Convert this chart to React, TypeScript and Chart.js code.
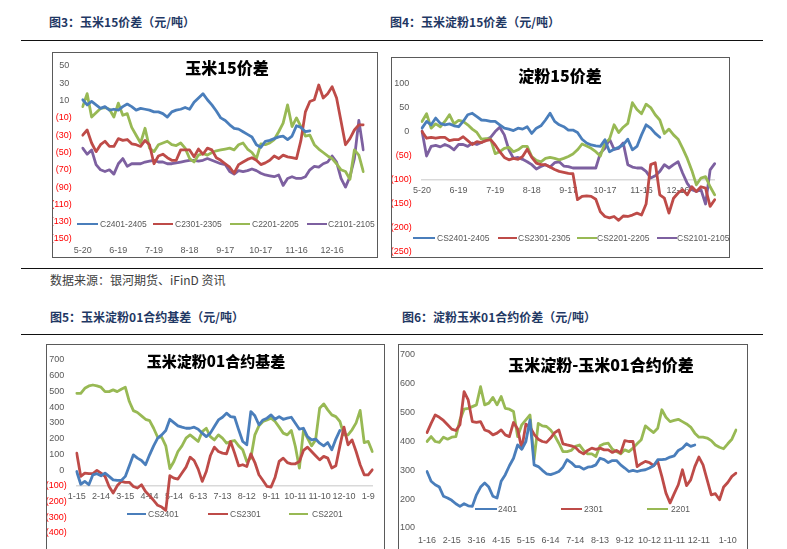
import React, { useEffect, useRef } from 'react';
import { Chart, registerables } from 'chart.js';

Chart.register(...registerables);
Chart.defaults.font.family = '"Liberation Sans", Arial, sans-serif';

const BLUE = '#4A7EBB';
const RED = '#BE4B48';
const GREEN = '#98B954';
const PURPLE = '#7D60A0';
const AXIS_TEXT = '#595959';
const NEG_TEXT = '#FF0000';

// ---------- 图3 玉米15价差 ----------
const c1Ticks = ['5-20', '6-19', '7-19', '8-18', '9-17', '10-17', '11-16', '12-16'];
const c1TickIdx = [0, 8, 16, 24, 32, 40, 48, 56];
const c1Count = 64;
const c1Blue = [11, 5, 9, 5, 1, 3, -1, 0, -1, 3, 6, 3, -1, 1, 0, -1, -3, -3, -5, -9, -3, -1, 0, 2, 0, 8, 13, 18, 11, 5, -2, -10, -13, -18, -22, -23, -26, -29, -32, -41, -44, -37, -36, -34, -32, -31, -35, -31, -19, -21, -26, -25];
const c1Red = [-30, -24, -39, -49, -41, -37, -43, -43, -34, -36, -35, -40, -41, -43, -36, -41, -63, -54, -52, -56, -59, -59, -47, -47, -47, -55, -46, -52, -45, -47, -56, -59, -63, -67, -74, -64, -61, -58, -56, -59, -64, -62, -59, -54, -57, -53, -55, -56, -57, -36, -3, 9, 11, 28, 13, 18, 26, 13, -14, -41, -34, -24, -18, -18];
const c1Green = [3, 18, -9, -4, 1, 2, 0, -9, 7, -7, -5, -21, -30, -39, -22, -45, -49, -41, -39, -37, -41, -42, -39, -45, -57, -61, -53, -51, -53, -50, -48, -47, -46, -45, -47, -41, -39, -46, -50, -57, -40, -41, -39, -35, -26, -16, 5, -20, -10, -20, -31, -30, -41, -46, -50, -54, -57, -63, -70, -72, -81, -47, -53, -72];
const c1Purple = [-45, -52, -47, -64, -70, -72, -70, -75, -63, -57, -66, -63, -63, -63, -61, -60, -59, -61, -61, -63, -63, -62, -61, -60, -59, -59, -60, -59, -57, -59, -61, -63, -64, -72, -75, -71, -72, -71, -69, -71, -74, -76, -77, -78, -76, -88, -80, -78, -80, -80, -78, -70, -66, -67, -63, -61, -54, -61, -80, -90, -78, -57, -13, -47];

// ---------- 图4 淀粉15价差 ----------
const c2Ticks = ['5-20', '6-19', '7-19', '8-18', '9-17', '10-17', '11-16', '12-16'];
const c2TickIdx = [0, 8, 16, 24, 32, 40, 48, 56];
const c2Count = 65;
const c2Blue = [8, 22, 15, 29, 18, 15, 17, 13, 11, 22, 36, 39, 32, 25, 24, 22, 22, 15, 8, 6, 3, 8, 6, 11, -3, 8, 13, 25, 39, 22, 15, 11, 4, 4, -1, -15, -23, -27, -29, -30, -16, -41, -36, -32, -27, -15, -37, -30, -6, 15, 8, -3, -11];
const c2Red = [1, -13, -11, -13, -11, -11, -18, -16, -16, -10, -18, -26, -20, -22, -18, -16, -27, -41, -53, -58, -55, -57, -51, -36, -53, -65, -68, -68, -73, -78, -82, -84, -86, -87, -141, -134, -133, -134, -140, -166, -176, -179, -176, -184, -175, -176, -173, -169, -173, -150, -68, -64, -131, -138, -169, -138, -127, -120, -131, -114, -124, -114, -117, -155, -141];
const c2Green = [22, 38, 8, 17, 11, 22, 36, 17, 24, 22, 15, 6, -1, -15, -14, -15, -45, -41, -34, -32, -41, -37, -30, -30, -51, -59, -62, -55, -53, -55, -58, -55, -51, -46, -37, -25, -29, -34, -41, -50, -23, -15, 15, -1, 10, 18, 61, 47, 38, 58, 51, 36, 25, -3, 6, -6, -15, -34, -55, -80, -110, -96, -93, -114, -131];
const c2Purple = [2, -50, -30, -28, -31, -26, -30, -37, -26, -26, -30, -23, -26, -22, -16, -11, 1, 10, -6, -37, -55, -53, -57, -62, -68, -77, -72, -68, -73, -64, -62, -71, -72, -75, -75, -75, -75, -75, -75, -44, -34, -15, -36, -34, -23, -68, -73, -75, -75, -82, -96, -91, -82, -68, -75, -68, -62, -86, -107, -120, -124, -120, -150, -79, -66];

// ---------- 图5 玉米淀粉01合约基差 ----------
const c3Ticks = ['1-15', '2-14', '3-15', '4-14', '5-14', '6-13', '7-13', '8-12', '9-11', '10-11', '11-10', '12-10', '1-9'];
const c3TickIdx = [0, 6, 12, 18, 24, 30, 36, 42, 48, 54, 60, 66, 72];
const c3Count = 74;
const c3Blue = [-9, -90, -72, -93, -30, -23, -36, -19, -40, -62, -66, -66, -40, 27, 97, 76, 61, 34, 97, 154, 203, 224, 252, 323, 302, 281, 273, 266, 266, 273, 260, 235, 213, 235, 277, 319, 336, 362, 340, 336, 256, 182, 161, 372, 345, 288, 319, 330, 351, 323, 340, 323, 330, 336, 298, 260, 266, 213, 192, 197, 171, 154, 175, 129, 197, 252];
const c3Red = [108, -40, -19, -23, -23, -2, -19, -40, -104, -146, -100, -72, -78, -78, -104, -114, -93, -136, -163, -193, -224, -235, -256, -36, -51, -57, -19, 19, 82, 61, 6, -72, -9, 91, 146, 118, 108, 103, 182, 108, 27, 34, 23, 103, 48, -30, -66, -104, -108, -45, 55, 76, 48, 40, 40, 55, 125, 146, 118, 91, 65, 87, 76, 13, 27, 154, 273, 161, 192, 118, 34, -30, -30, 2];
const c3Green = [488, 488, 520, 535, 541, 535, 527, 499, 499, 510, 499, 514, 527, 436, 378, 366, 345, 323, 315, 266, 209, 209, 154, 10, 55, 118, 154, 203, 224, 203, 182, 245, 266, 213, 192, 224, 203, 171, 182, 188, 154, 129, 55, 76, 224, 281, 309, 319, 330, 309, 273, 235, 224, 252, 150, 12, 252, 203, 154, 192, 393, 421, 383, 351, 340, 309, 224, 224, 256, 300, 380, 175, 182, 118];

// ---------- 图6 淀粉玉米01合约价差 ----------
const c4Ticks = ['1-16', '2-15', '3-16', '4-15', '5-15', '6-14', '7-14', '8-13', '9-12', '10-12', '11-11', '12-11', '1-10'];
const c4TickIdx = [0, 6, 12, 18, 24, 30, 36, 42, 48, 54, 60, 66, 73];
const c4Count = 76;
const c4Blue = [296, 262, 250, 242, 210, 204, 196, 184, 175, 184, 177, 175, 215, 242, 256, 242, 210, 204, 262, 285, 316, 342, 388, 373, 400, 475, 319, 313, 300, 288, 285, 290, 296, 311, 337, 327, 313, 313, 304, 311, 313, 319, 342, 337, 327, 334, 334, 319, 308, 296, 300, 296, 300, 302, 308, 316, 337, 337, 339, 346, 350, 369, 377, 392, 383, 388];
const c4Red = [431, 463, 492, 484, 473, 458, 443, 438, 458, 573, 544, 469, 466, 469, 440, 435, 423, 429, 440, 423, 417, 466, 443, 375, 460, 450, 425, 408, 400, 397, 412, 431, 440, 392, 388, 385, 380, 365, 357, 369, 377, 373, 377, 371, 371, 362, 369, 360, 403, 400, 400, 313, 323, 331, 327, 316, 331, 279, 221, 187, 219, 250, 302, 247, 267, 313, 346, 319, 267, 215, 219, 198, 242, 258, 279, 290];
const c4Green = [400, 417, 400, 397, 415, 408, 415, 417, 475, 512, 515, 521, 527, 590, 527, 533, 553, 527, 556, 515, 512, 504, 417, 458, 475, 492, 337, 463, 454, 452, 440, 420, 394, 365, 365, 369, 383, 388, 369, 357, 357, 348, 385, 392, 394, 373, 365, 357, 371, 365, 377, 392, 406, 454, 442, 431, 446, 510, 484, 469, 473, 477, 469, 461, 450, 429, 415, 415, 412, 403, 388, 380, 375, 392, 408, 440];

function buildLabels(n: number, ticks: string[], idx: number[]): string[] {
  const arr: string[] = new Array(n).fill('');
  ticks.forEach((t, k) => {
    arr[idx[k]] = t;
  });
  return arr;
}

type Series = { name: string; data: number[]; color: string };
type Cfg = {
  box: [number, number, number, number];
  labels: string[];
  series: Series[];
  y: { min: number; max: number; step: number; width: number; pad: number; acct: boolean };
  pad: { top: number; right: number; bottom: number };
  x: { at: number | null; height: number; pad: number };
};

function LineChart({ cfg }: { cfg: Cfg }) {
  const ref = useRef<HTMLCanvasElement>(null);
  useEffect(() => {
    const canvas = ref.current;
    if (!canvas) return;
    const chart = new Chart(canvas, {
      type: 'line',
      data: {
        labels: cfg.labels,
        datasets: cfg.series.map((s) => ({
          label: s.name,
          data: s.data,
          borderColor: s.color,
          backgroundColor: s.color,
          borderWidth: 2.8,
          pointRadius: 0,
          tension: 0,
          fill: false,
          borderJoinStyle: 'round' as const,
          borderCapStyle: 'round' as const,
        })),
      },
      options: {
        animation: false,
        responsive: true,
        maintainAspectRatio: false,
        events: [],
        layout: { padding: { left: 0, top: cfg.pad.top, right: cfg.pad.right, bottom: cfg.pad.bottom } },
        plugins: { legend: { display: false }, tooltip: { enabled: false }, title: { display: false } },
        scales: {
          x: {
            type: 'category',
            position: (cfg.x.at === null ? 'bottom' : { y: cfg.x.at }) as any,
            grid: { display: false, drawTicks: false },
            border: { display: cfg.x.at !== null, color: '#D9D9D9', width: 1.5 },
            ticks: {
              autoSkip: false,
              maxRotation: 0,
              minRotation: 0,
              padding: cfg.x.pad,
              color: AXIS_TEXT,
              font: { size: 9 },
            },
            afterFit: (s: any) => {
              s.height = cfg.x.height;
              s.paddingLeft = 0;
              s.paddingRight = 0;
            },
          },
          y: {
            min: cfg.y.min,
            max: cfg.y.max,
            grid: { display: false, drawTicks: false },
            border: { display: false },
            ticks: {
              stepSize: cfg.y.step,
              padding: cfg.y.pad,
              autoSkip: false,
              font: { size: 9 },
              color: (c: any) => (cfg.y.acct && c.tick && c.tick.value < 0 ? NEG_TEXT : AXIS_TEXT),
              callback: (v: any) => {
                const n = Number(v);
                if (!cfg.y.acct) return String(n);
                return n < 0 ? `(${Math.abs(n)})` : `${n} `;
              },
            },
            afterFit: (s: any) => {
              s.width = cfg.y.width;
              s.paddingTop = 0;
              s.paddingBottom = 0;
            },
          },
        },
      },
    });
    return () => chart.destroy();
  }, [cfg]);
  const [l, t, w, h] = cfg.box;
  return (
    <div
      style={{
        position: 'absolute',
        left: l,
        top: t,
        width: w,
        height: h,
        border: '1px solid #5a5a5a',
        boxSizing: 'border-box',
        background: '#fff',
      }}
    >
      <div style={{ position: 'absolute', left: 0, top: 0, width: w - 2, height: h - 2 }}>
        <canvas ref={ref} />
      </div>
    </div>
  );
}

const chart1: Cfg = {
  box: [52, 52, 326, 206],
  labels: buildLabels(c1Count, c1Ticks, c1TickIdx),
  series: [
    { name: 'C2401-2405', data: c1Blue, color: BLUE },
    { name: 'C2301-2305', data: c1Red, color: RED },
    { name: 'C2201-2205', data: c1Green, color: GREEN },
    { name: 'C2101-2105', data: c1Purple, color: PURPLE },
  ],
  y: { min: -150, max: 50, step: 20, width: 29.7, pad: 11, acct: true },
  pad: { top: 13, right: 13.7, bottom: 0 },
  x: { at: null, height: 18, pad: 6.6 },
};

const chart2: Cfg = {
  box: [391, 57, 339, 201],
  labels: buildLabels(c2Count, c2Ticks, c2TickIdx),
  series: [
    { name: 'CS2401-2405', data: c2Blue, color: BLUE },
    { name: 'CS2301-2305', data: c2Red, color: RED },
    { name: 'CS2201-2205', data: c2Green, color: GREEN },
    { name: 'CS2101-2105', data: c2Purple, color: PURPLE },
  ],
  y: { min: -250, max: 100, step: 50, width: 30, pad: 10.3, acct: true },
  pad: { top: 26, right: 14.3, bottom: 5 },
  x: { at: -100, height: 0, pad: 5.6 },
};

const chart3: Cfg = {
  box: [46, 344, 339, 216],
  labels: buildLabels(c3Count, c3Ticks, c3TickIdx),
  series: [
    { name: 'CS2401', data: c3Blue, color: BLUE },
    { name: 'CS2301', data: c3Red, color: RED },
    { name: 'CS2201', data: c3Green, color: GREEN },
  ],
  y: { min: -400, max: 700, step: 100, width: 29.7, pad: 10, acct: true },
  pad: { top: 15, right: 11.7, bottom: 26 },
  x: { at: -100, height: 0, pad: 5.6 },
};

const chart4: Cfg = {
  box: [398, 344, 350, 216],
  labels: buildLabels(c4Count, c4Ticks, c4TickIdx),
  series: [
    { name: '2401', data: c4Blue, color: BLUE },
    { name: '2301', data: c4Red, color: RED },
    { name: '2201', data: c4Green, color: GREEN },
  ],
  y: { min: 100, max: 700, step: 100, width: 28, pad: 12, acct: false },
  pad: { top: 10, right: 11, bottom: 11 },
  x: { at: null, height: 20, pad: 7.6 },
};

const HEAD_FONT = '"Noto Sans CJK SC", sans-serif';

function Heading({ x, y, text }: { x: number; y: number; text: string }) {
  return (
    <div
      style={{
        position: 'absolute',
        left: x,
        top: y - 8,
        height: 16,
        lineHeight: '16px',
        fontFamily: HEAD_FONT,
        fontWeight: 700,
        fontSize: 12,
        color: '#1F3864',
        whiteSpace: 'nowrap',
      }}
    >
      {text}
    </div>
  );
}

function Rule({ y }: { y: number }) {
  return <div style={{ position: 'absolute', left: 21, top: y, width: 742, height: 1.3, background: '#111' }} />;
}

function Title({ cx, cy, text, size }: { cx: number; cy: number; text: string; size: number }) {
  return (
    <div
      style={{
        position: 'absolute',
        left: cx - 150,
        top: cy - 11,
        width: 300,
        height: 22,
        lineHeight: '22px',
        textAlign: 'center',
        fontFamily: HEAD_FONT,
        fontWeight: 900,
        fontSize: size,
        color: '#000',
        whiteSpace: 'nowrap',
      }}
    >
      {text}
    </div>
  );
}

function Legend({ y, items }: { y: number; items: { lx: number; lw: number; tx: number; text: string; color: string }[] }) {
  return (
    <>
      {items.map((it) => (
        <React.Fragment key={it.text}>
          <div style={{ position: 'absolute', left: it.lx, top: y - 1.4, width: it.lw, height: 2.8, background: it.color }} />
          <div
            style={{
              position: 'absolute',
              left: it.tx,
              top: y - 6,
              height: 12,
              lineHeight: '12px',
              fontFamily: '"Liberation Sans", Arial, sans-serif',
              fontSize: 8.5,
              color: AXIS_TEXT,
              whiteSpace: 'nowrap',
            }}
          >
            {it.text}
          </div>
        </React.Fragment>
      ))}
    </>
  );
}

export default function App() {
  return (
    <div
      style={{
        position: 'fixed',
        left: 0,
        top: 0,
        width: 787,
        height: 549,
        overflow: 'hidden',
        background: '#fff',
      }}
    >
      <Heading x={49} y={22} text="图3：玉米15价差（元/吨）" />
      <Heading x={390} y={22} text="图4：玉米淀粉15价差（元/吨）" />
      <Rule y={39.5} />

      <LineChart cfg={chart1} />
      <LineChart cfg={chart2} />
      <Title cx={227} cy={67} text="玉米15价差" size={16} />
      <Title cx={560} cy={75} text="淀粉15价差" size={16} />
      <Legend
        y={224}
        items={[
          { lx: 77, lw: 21, tx: 100, text: 'C2401-2405', color: BLUE },
          { lx: 153, lw: 20, tx: 175, text: 'C2301-2305', color: RED },
          { lx: 230, lw: 20, tx: 252, text: 'C2201-2205', color: GREEN },
          { lx: 307, lw: 20, tx: 328, text: 'C2101-2105', color: PURPLE },
        ]}
      />
      <Legend
        y={238}
        items={[
          { lx: 413, lw: 22, tx: 437, text: 'CS2401-2405', color: BLUE },
          { lx: 498, lw: 19, tx: 518, text: 'CS2301-2305', color: RED },
          { lx: 577, lw: 20, tx: 597, text: 'CS2201-2205', color: GREEN },
          { lx: 657, lw: 20, tx: 677, text: 'CS2101-2105', color: PURPLE },
        ]}
      />

      <Rule y={267.5} />
      <div
        style={{
          position: 'absolute',
          left: 50,
          top: 272,
          height: 16,
          lineHeight: '16px',
          fontFamily: HEAD_FONT,
          fontSize: 12,
          color: '#404040',
          whiteSpace: 'nowrap',
        }}
      >
        数据来源：银河期货、iFinD 资讯
      </div>

      <Heading x={50} y={317} text="图5：玉米淀粉01合约基差（元/吨）" />
      <Heading x={402} y={317} text="图6：淀粉玉米01合约价差（元/吨）" />
      <Rule y={333.5} />

      <LineChart cfg={chart3} />
      <LineChart cfg={chart4} />
      <Title cx={216} cy={361} text="玉米淀粉01合约基差" size={15} />
      <Title cx={601} cy={364} text="玉米淀粉-玉米01合约价差" size={16} />
      <Legend
        y={514}
        items={[
          { lx: 127, lw: 19, tx: 148, text: 'CS2401', color: BLUE },
          { lx: 208, lw: 20, tx: 230, text: 'CS2301', color: RED },
          { lx: 289, lw: 19, tx: 312, text: 'CS2201', color: GREEN },
        ]}
      />
      <Legend
        y={509}
        items={[
          { lx: 475, lw: 22, tx: 498, text: '2401', color: BLUE },
          { lx: 561, lw: 21, tx: 584, text: '2301', color: RED },
          { lx: 647, lw: 21, tx: 671, text: '2201', color: GREEN },
        ]}
      />
    </div>
  );
}
